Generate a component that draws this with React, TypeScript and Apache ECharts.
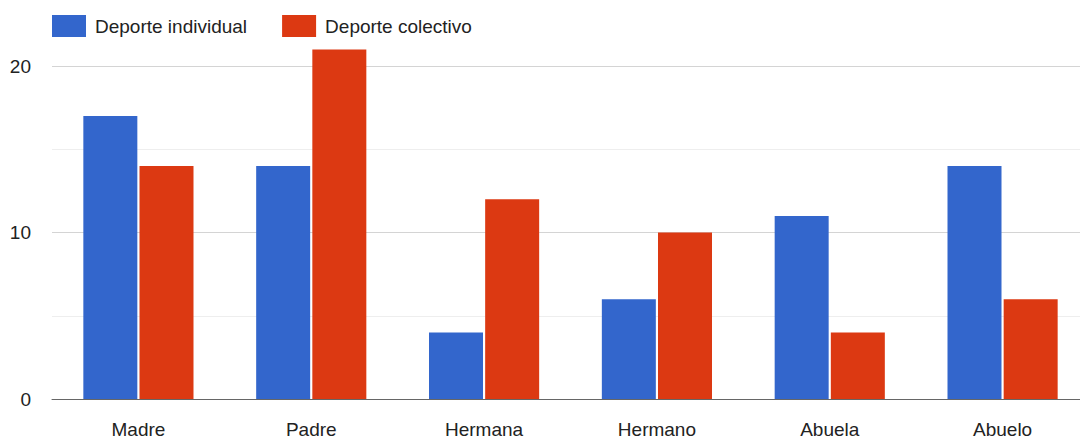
import React, { useEffect, useRef } from "react";
import * as echarts from "echarts";

const categories = ["Madre", "Padre", "Hermana", "Hermano", "Abuela", "Abuelo"];
const individual = [17, 14, 4, 6, 11, 14];
const colectivo = [14, 21, 12, 10, 4, 6];
const seriesNames = ["Deporte individual", "Deporte colectivo"];
const yTickLabels = ["0", "10", "20"];

export default function App() {
  const ref = useRef<HTMLDivElement>(null);
  useEffect(() => {
    if (!ref.current) return;
    const chart = echarts.init(ref.current, undefined, { renderer: "svg" });
    const font = "'Liberation Sans', Arial, sans-serif";
    chart.setOption({
      animation: false,
      color: ["#3366cc", "#dc3912"],
      legend: {
        left: 52,
        top: 32,
        padding: 0,
        itemWidth: 34,
        itemHeight: 22,
        itemGap: 35,
        icon: "rect",
        textStyle: { fontSize: 19, color: "#222", fontFamily: font, padding: [0, 0, 0, 4] },
        data: seriesNames,
      },
      grid: { left: 52, right: 0, top: 0, bottom: 40, containLabel: false },
      xAxis: {
        type: "category",
        data: categories,
        axisLine: { show: true, lineStyle: { color: "#666", width: 1 } },
        axisTick: { show: false },
        axisLabel: { fontSize: 19, color: "#222", fontFamily: font, margin: 21 },
      },
      yAxis: {
        type: "value",
        min: 0,
        max: 25,
        interval: 10,
        axisLine: { show: false },
        axisTick: { show: false },
        axisLabel: {
          fontSize: 19,
          color: "#222",
          fontFamily: font,
          margin: 21,
          formatter: (v: number) => (yTickLabels.includes(String(v)) ? String(v) : ""),
        },
        splitLine: { show: true, lineStyle: { color: "#d4d4d4", width: 1 } },
        minorTick: { show: false, splitNumber: 2 },
        minorSplitLine: { show: true, lineStyle: { color: "#eeeeee", width: 1 } },
      },
      series: [
        {
          name: seriesNames[0],
          type: "bar",
          data: individual,
          barWidth: 54,
          barGap: "4%",
        },
        {
          name: seriesNames[1],
          type: "bar",
          data: colectivo,
          barWidth: 54,
          barGap: "4%",
        },
      ],
    });
    return () => chart.dispose();
  }, []);
  return (
    <div
      style={{
        position: "fixed",
        left: 0,
        top: 0,
        width: 1080,
        height: 439,
        overflow: "hidden",
        background: "#fff",
      }}
    >
      <div
        ref={ref}
        style={{ position: "absolute", left: 0, top: -17, width: 1089, height: 456 }}
      />
    </div>
  );
}
